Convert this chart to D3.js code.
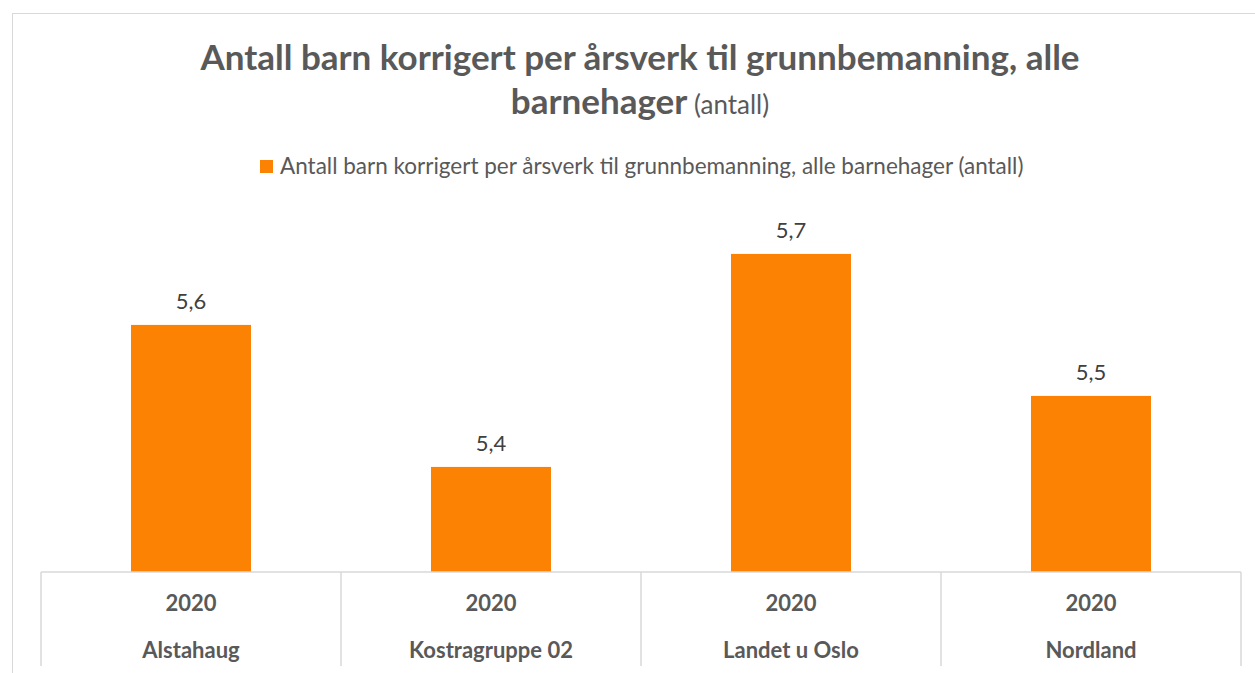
<!DOCTYPE html>
<html><head><meta charset="utf-8">
<script src="https://cdn.jsdelivr.net/npm/d3@7"></script>
<style>body{margin:0;background:#fff;} svg{display:block;}</style>
</head><body>
<svg id="c" width="1255" height="673"></svg>
<script>
const categories = ["Alstahaug", "Kostragruppe 02", "Landet u Oslo", "Nordland"];
const years = ["2020", "2020", "2020", "2020"];
const values = [5.6, 5.4, 5.7, 5.5];
const valueLabels = ["5,6", "5,4", "5,7", "5,5"];
const seriesName = "Antall barn korrigert per årsverk til grunnbemanning, alle barnehager (antall)";
const yDomain = [5.252, 5.8];

const font = "Lato, 'Open Sans', sans-serif";
const svg = d3.select("#c");
// chart frame
svg.append("rect").attr("x", 12.5).attr("y", 13.5).attr("width", 1256).attr("height", 700)
  .attr("fill", "#fff").attr("stroke", "#d9d9d9").attr("stroke-width", 1);

// title
const t = svg.append("text").attr("text-anchor", "middle").attr("font-family", font).attr("fill", "#595959");
t.append("tspan").attr("x", 640).attr("y", 70).attr("font-size", 35).attr("font-weight", "bold")
  .text("Antall barn korrigert per årsverk til grunnbemanning, alle");
const t2 = svg.append("text").attr("text-anchor", "middle").attr("font-family", font).attr("fill", "#595959")
  .attr("x", 640).attr("y", 114);
t2.append("tspan").attr("font-size", 35).attr("font-weight", "bold").text("barnehager");
t2.append("tspan").attr("font-size", 26).text(" (antall)");

// legend
const lg = svg.append("g");
lg.append("rect").attr("x", 260).attr("y", 160).attr("width", 13).attr("height", 13).attr("fill", "#fb8203");
lg.append("text").attr("x", 280).attr("y", 174).attr("font-family", font).attr("font-size", 22.5)
  .attr("fill", "#595959").text(seriesName);

const x = d3.scaleBand().domain(categories).range([41, 1241]).paddingInner(0.6).paddingOuter(0.3);
const xb = d3.scaleBand().domain(categories).range([41, 1241]);
const y = d3.scaleLinear().domain(yDomain).range([572, 572 - (yDomain[1] - yDomain[0]) * 710]);

svg.selectAll("rect.bar").data(values).join("rect").attr("class", "bar")
  .attr("x", (d, i) => x(categories[i])).attr("width", x.bandwidth())
  .attr("y", d => y(d)).attr("height", d => y(yDomain[0]) - y(d)).attr("fill", "#fb8203");

svg.selectAll("text.lbl").data(values).join("text").attr("class", "lbl")
  .attr("x", (d, i) => x(categories[i]) + x.bandwidth() / 2).attr("y", d => y(d) - 16)
  .attr("text-anchor", "middle").attr("font-family", font).attr("font-size", 22).attr("fill", "#404040")
  .text((d, i) => valueLabels[i]);

// category table axis
const ax = svg.append("g").attr("stroke", "#d9d9d9").attr("stroke-width", 1.5);
ax.append("line").attr("x1", 41).attr("x2", 1241).attr("y1", 572).attr("y2", 572);
const edges = categories.map(c => xb(c)).concat([xb.range()[1]]);
ax.selectAll("line.v").data(edges).join("line").attr("class", "v")
  .attr("x1", d => d).attr("x2", d => d).attr("y1", 572).attr("y2", 666);

svg.selectAll("text.yr").data(categories).join("text").attr("class", "yr")
  .attr("x", d => xb(d) + xb.bandwidth() / 2).attr("y", 611).attr("text-anchor", "middle")
  .attr("font-family", font).attr("font-size", 22).attr("font-weight", "bold").attr("fill", "#595959")
  .text((d, i) => years[i]);
svg.selectAll("text.cat").data(categories).join("text").attr("class", "cat")
  .attr("x", d => xb(d) + xb.bandwidth() / 2).attr("y", 658).attr("text-anchor", "middle")
  .attr("font-family", font).attr("font-size", 22).attr("font-weight", "bold").attr("fill", "#595959")
  .text(d => d);
</script>
</body></html>
